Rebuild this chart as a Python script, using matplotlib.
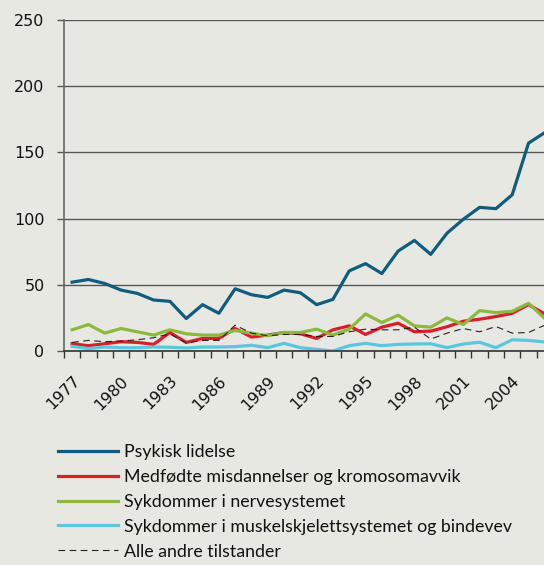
import matplotlib.pyplot as plt
import numpy as np

years = list(range(1977, 2007))

psykisk = [52, 54, 51, 46, 43.5, 38.5, 37.5, 24.5, 35, 28.5,
           47, 42.5, 40.5, 46, 44, 35, 39, 60.5, 66, 58.5,
           75.5, 83.5, 73, 89, 99.5, 108.5, 107.5, 118, 157, 165]
medfodte = [5.5, 4, 5.5, 7, 6.5, 5, 14, 6.5, 9.5, 9.5,
            17, 10.5, 12, 14, 13, 9.5, 16, 19, 12.5, 18,
            21, 14.5, 15, 18.3, 22.5, 24, 26, 28.5, 35, 28]
nerve = [16, 20, 13.5, 17, 14.5, 12, 16, 13, 12, 12,
         15.5, 13.5, 11.5, 14, 14, 16.5, 12, 16.5, 28, 21.5,
         27, 19, 18, 25, 20, 30.5, 29, 30, 36, 24.5]
muskel = [3.5, 1.8, 3, 2.5, 2.5, 3, 2.8, 2.3, 3, 3,
          3.3, 4.3, 2.5, 5.8, 2.5, 1.3, 0, 4, 5.8, 4,
          5, 5.3, 5.5, 2.5, 5.3, 6.6, 2.5, 8.5, 8, 6.8]
andre = [6.5, 8, 7, 7.5, 8.5, 10, 13, 6, 8, 8,
         19.5, 13.5, 11.5, 12.5, 12.5, 11, 11, 14.5, 16.5, 16,
         16, 18, 9, 13.5, 17, 14.5, 18.5, 13.5, 14, 19.5]

labels = ["Psykisk lidelse",
          "Medfødte misdannelser og kromosomavvik",
          "Sykdommer i nervesystemet",
          "Sykdommer i muskelskjelettsystemet og bindevev",
          "Alle andre tilstander"]

bg = "#e8e8e3"
fig = plt.figure(figsize=(5.44, 5.65), dpi=100, facecolor=bg)
ax = fig.add_axes([64 / 544, 1 - 351 / 565, 1 - 64 / 544, (351 - 20) / 565])
ax.set_facecolor(bg)

x = np.arange(len(years))
ax.plot(x, psykisk, color="#0f5c7c", lw=2.3, label=labels[0])
ax.plot(x, medfodte, color="#d81e28", lw=2.3, label=labels[1])
ax.plot(x, nerve, color="#8cb93d", lw=2.3, label=labels[2])
ax.plot(x, muskel, color="#5cc6df", lw=2.3, label=labels[3])
ax.plot(x, andre, color="#222222", lw=0.8, ls=(0, (6, 4)), label=labels[4])

ax.set_ylim(0, 250)
ax.set_xlim(-0.5, 28.95)
ax.set_yticks(range(0, 251, 50))
ax.yaxis.grid(True, color="#555555", lw=1)
ax.set_axisbelow(True)

ax.set_xticks(x[::3])
ax.set_xticklabels([str(y) for y in years[::3]], rotation=45, ha="right",
                   va="top", rotation_mode="anchor", fontsize=11.5, color="#111111")
ax.set_xticks(np.arange(-0.5, 29.5, 1), minor=True)
ax.tick_params(axis="x", which="major", length=0, pad=16)
ax.tick_params(axis="x", which="minor", length=5, width=1, color="#333333", direction="out")
ax.tick_params(axis="y", length=5, width=1, color="#555555", labelsize=11.5,
               labelcolor="#111111", pad=9)

for s in ["top", "right"]:
    ax.spines[s].set_visible(False)
ax.spines["left"].set_color("#666666")
ax.spines["left"].set_linewidth(1.2)
ax.spines["bottom"].set_color("#333333")
ax.spines["bottom"].set_linewidth(1.2)

leg = fig.legend(loc="upper left", bbox_to_anchor=(58 / 544, 1 - 444 / 565),
                 frameon=False, prop={"family": "Lato", "size": 12.8},
                 handlelength=3.35, handletextpad=0.35, labelspacing=0.5,
                 borderaxespad=0, borderpad=0)
for t in leg.get_texts():
    t.set_color("#111111")

fig.savefig("out.png", dpi=100, facecolor=bg)
